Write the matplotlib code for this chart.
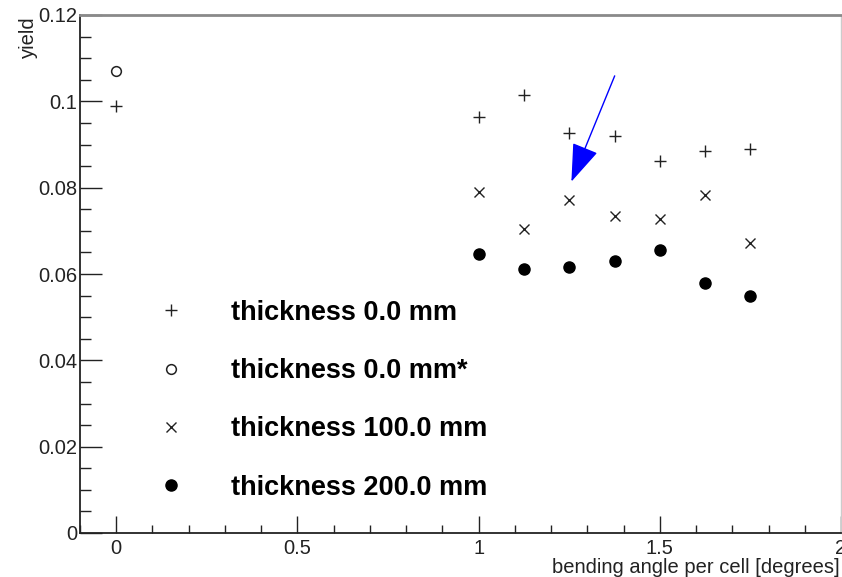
import matplotlib
matplotlib.use("Agg")
import matplotlib.pyplot as plt
from matplotlib.ticker import MultipleLocator

plt.rcParams['font.family'] = ['Liberation Sans', 'DejaVu Sans']

# data
angle = [1.0, 1.125, 1.25, 1.375, 1.5, 1.625, 1.75]
yield_0mm = [0.0963, 0.1015, 0.0927, 0.0920, 0.0862, 0.0885, 0.0889]
yield_100mm = [0.0791, 0.0704, 0.0772, 0.0735, 0.0727, 0.0783, 0.0671]
yield_200mm = [0.0646, 0.0612, 0.0617, 0.0629, 0.0656, 0.0580, 0.0549]
angle_ref = [0.0]
yield_0mm_ref = [0.0990]
yield_0mm_star = [0.1070]
labels = ['thickness 0.0 mm', 'thickness 0.0 mm*',
          'thickness 100.0 mm', 'thickness 200.0 mm']
arrow_tip = (1.256, 0.0814)
arrow_tail = (1.3755, 0.1059)

fig = plt.figure(figsize=(8.42, 5.77), dpi=100)
ax = fig.add_axes([80 / 842, 44 / 577, 761 / 842, 518 / 577])

c = '#222222'
h1, = ax.plot(angle_ref + angle, yield_0mm_ref + yield_0mm, '+', color=c, ms=8, mew=1)
h2, = ax.plot(angle_ref, yield_0mm_star, 'o', mfc='none', mec=c, ms=7, mew=1.1)
h3, = ax.plot(angle, yield_100mm, 'x', color=c, ms=7.5, mew=1)
h4, = ax.plot(angle, yield_200mm, 'o', color='black', ms=8)

ax.annotate('', xy=arrow_tip, xytext=arrow_tail,
            arrowprops=dict(arrowstyle='-|>,head_length=2.4,head_width=0.85',
                            color='blue', lw=1, mutation_scale=10,
                            shrinkA=0, shrinkB=0))

ax.set_xlim(-0.1, 2.0)
ax.set_ylim(0, 0.12)
ax.xaxis.set_minor_locator(MultipleLocator(0.1))
ax.yaxis.set_minor_locator(MultipleLocator(0.005))
ax.set_xticks([0, 0.5, 1, 1.5, 2])
ax.set_xticklabels(['0', '0.5', '1', '1.5', '2'])
ax.set_yticks([0, 0.02, 0.04, 0.06, 0.08, 0.1, 0.12])
ax.set_yticklabels(['0', '0.02', '0.04', '0.06', '0.08', '0.1', '0.12'])

ax.tick_params(axis='x', which='major', direction='in', length=12, width=1, labelsize=14.5, pad=4, colors='#222222')
ax.tick_params(axis='x', which='minor', direction='in', length=6, width=1, colors='#222222')
ax.tick_params(axis='y', which='major', direction='in', length=16, width=1, labelsize=14.5, pad=2, colors='#222222')
ax.tick_params(axis='y', which='minor', direction='in', length=8, width=1, colors='#222222')

ax.spines['left'].set_color('#222222')
ax.spines['left'].set_linewidth(1.3)
ax.spines['bottom'].set_color('#222222')
ax.spines['bottom'].set_linewidth(1.3)
ax.spines['top'].set_color('#8a8a8a')
ax.spines['top'].set_linewidth(2)
ax.spines['right'].set_color('#cccccc')
ax.spines['right'].set_linewidth(1)

ax.set_xlabel('bending angle per cell [degrees]', fontsize=14.5, color='#222222')
ax.xaxis.set_label_coords(0.998, -0.049)
ax.xaxis.label.set_horizontalalignment('right')
ax.text(-0.068, 0.997, 'yield', rotation=90, ha='center', va='top',
        fontsize=14.5, color='#222222', transform=ax.transAxes)

leg = ax.legend([h1, h2, h3, h4], labels, loc='upper left',
                bbox_to_anchor=(0.084, 0.45), frameon=False,
                prop={'size': 19.5, 'weight': 'bold'}, numpoints=1,
                handlelength=2, handletextpad=1.2, labelspacing=1.19,
                borderpad=0, borderaxespad=0)

fig.savefig('out.png', dpi=100)
